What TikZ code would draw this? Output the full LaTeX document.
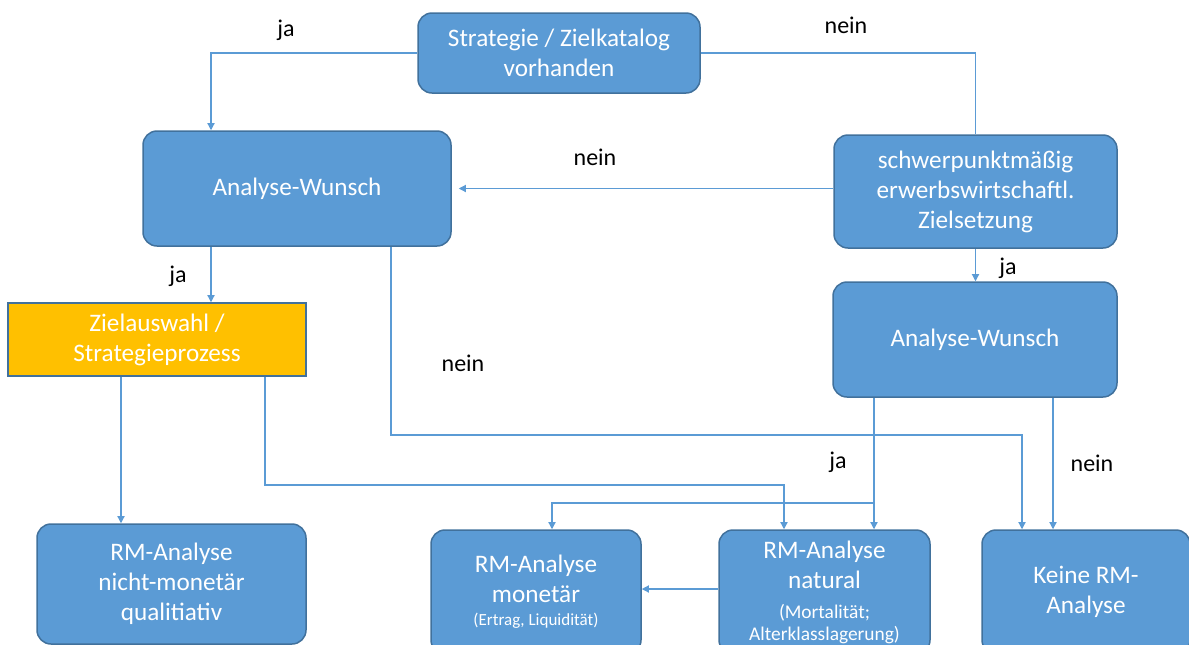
\documentclass[tikz,border=0pt]{standalone}
\usepackage{fontspec}
\setmainfont{Carlito}
\usetikzlibrary{arrows.meta}
\definecolor{boxblue}{HTML}{5B9BD5}
\definecolor{boxline}{HTML}{41719C}
\definecolor{zielorange}{HTML}{FFC000}
\tikzset{box/.style={draw=boxline, fill=boxblue, line width=0.75pt, rounded corners=7pt,
   text=white, align=center, inner sep=2pt, font=\fontsize{12.6}{15}\selectfont},
 zielbox/.style={box, fill=zielorange, sharp corners},
 conn/.style={draw=boxblue, line width=0.6pt},
 arr/.style={conn, -{Triangle[width=3.6pt,length=3.6pt]}},
 lab/.style={font=\fontsize{12}{14}\selectfont, inner sep=0pt},
 }

\begin{document}
\begin{tikzpicture}[x=0.5pt, y=-0.5pt]
        \useasboundingbox (0,0) rectangle (1189,644);
        \clip (0,0) rectangle (1189,644);
        \node[box, minimum width=141pt, minimum height=40pt] (strat) at (559,53) {Strategie / Zielkatalog\\vorhanden};
        \node[box, minimum width=154pt, minimum height=57.5pt] (aw1) at (297,188.5) {Analyse-Wunsch};
        \node[box, minimum width=141.5pt, minimum height=56.5pt] (schwer) at (975.5,191.5) {schwerpunktmäßig\\erwerbswirtschaftl.\\Zielsetzung};
        \node[zielbox, minimum width=149pt, minimum height=36.5pt] (ziel) at (157,339.5) {Zielauswahl /\\Strategieprozess};
        \node[box, minimum width=142pt, minimum height=57.5pt] (aw2) at (975,339.5) {Analyse-Wunsch};
        \node[box, minimum width=134.5pt, minimum height=60pt] (nm) at (171.5,584) {RM-Analyse\\nicht-monetär\\qualitiativ};
        \node[box, minimum width=105pt, minimum height=62pt] (mon) at (536,592) {RM-Analyse\\monetär\\[-3.5pt]{\fontsize{8.5}{10}\selectfont (Ertrag, Liquidität)}};
        \node[box, minimum width=105.5pt, minimum height=62pt] (nat) at (824.5,592) {RM-Analyse\\natural\\{\fontsize{9.7}{11}\selectfont (Mortalität;}\\[-4pt]{\fontsize{9.7}{11}\selectfont Alterklasslagerung)}};
        \node[box, minimum width=104pt, minimum height=62pt] (keine) at (1086,592) {Keine RM-\\Analyse};
        \node[lab] (ja1) at (286,30) {ja};
        \node[lab] (nein1) at (846,25) {nein};
        \node[lab] (nein2) at (595,157) {nein};
        \node[lab] (ja2) at (178,276) {ja};
        \node[lab] (ja3) at (1008,268) {ja};
        \node[lab] (nein3) at (463,363) {nein};
        \node[lab] (ja4) at (838,462) {ja};
        \node[lab] (nein4) at (1092,463) {nein};
        \coordinate (zk) at (784,485);
        \coordinate (ak) at (1022,435);
        \coordinate (mk) at (552,503);
        \draw[arr] (strat.west) -| ([xshift=-43pt]aw1.north);
        \draw[conn] (strat.east) -| (schwer.north);
        \draw[arr] (schwer.west |- aw1.east) -- ([xshift=3.5pt]aw1.east);
        \draw[arr] ([xshift=-43pt]aw1.south) -- ([xshift=-43pt]aw1.south |- ziel.north);
        \draw[arr] (schwer.south) -- (schwer.south |- aw2.north);
        \draw[arr] ([xshift=-18pt]ziel.south) -- ([xshift=-18pt]ziel.south |- nm.north);
        \draw[arr] ([xshift=54pt]ziel.south) |- (zk) -- (zk |- nat.north);
        \draw[arr] ([xshift=47pt]aw1.south) |- (ak) -- (ak |- keine.north);
        \draw[arr] ([xshift=-50.5pt]aw2.south) -- ([xshift=-50.5pt]aw2.south |- nat.north);
        \draw[arr] ([xshift=-50.5pt]aw2.south |- mk) -- (mk) -- (mk |- mon.north);
        \draw[arr] ([xshift=39pt]aw2.south) -- ([xshift=39pt]aw2.south |- keine.north);
        \draw[arr] ([yshift=1.5pt]nat.west) -- ([yshift=1.5pt]nat.west -| mon.east);
    \end{tikzpicture}
\end{document}
